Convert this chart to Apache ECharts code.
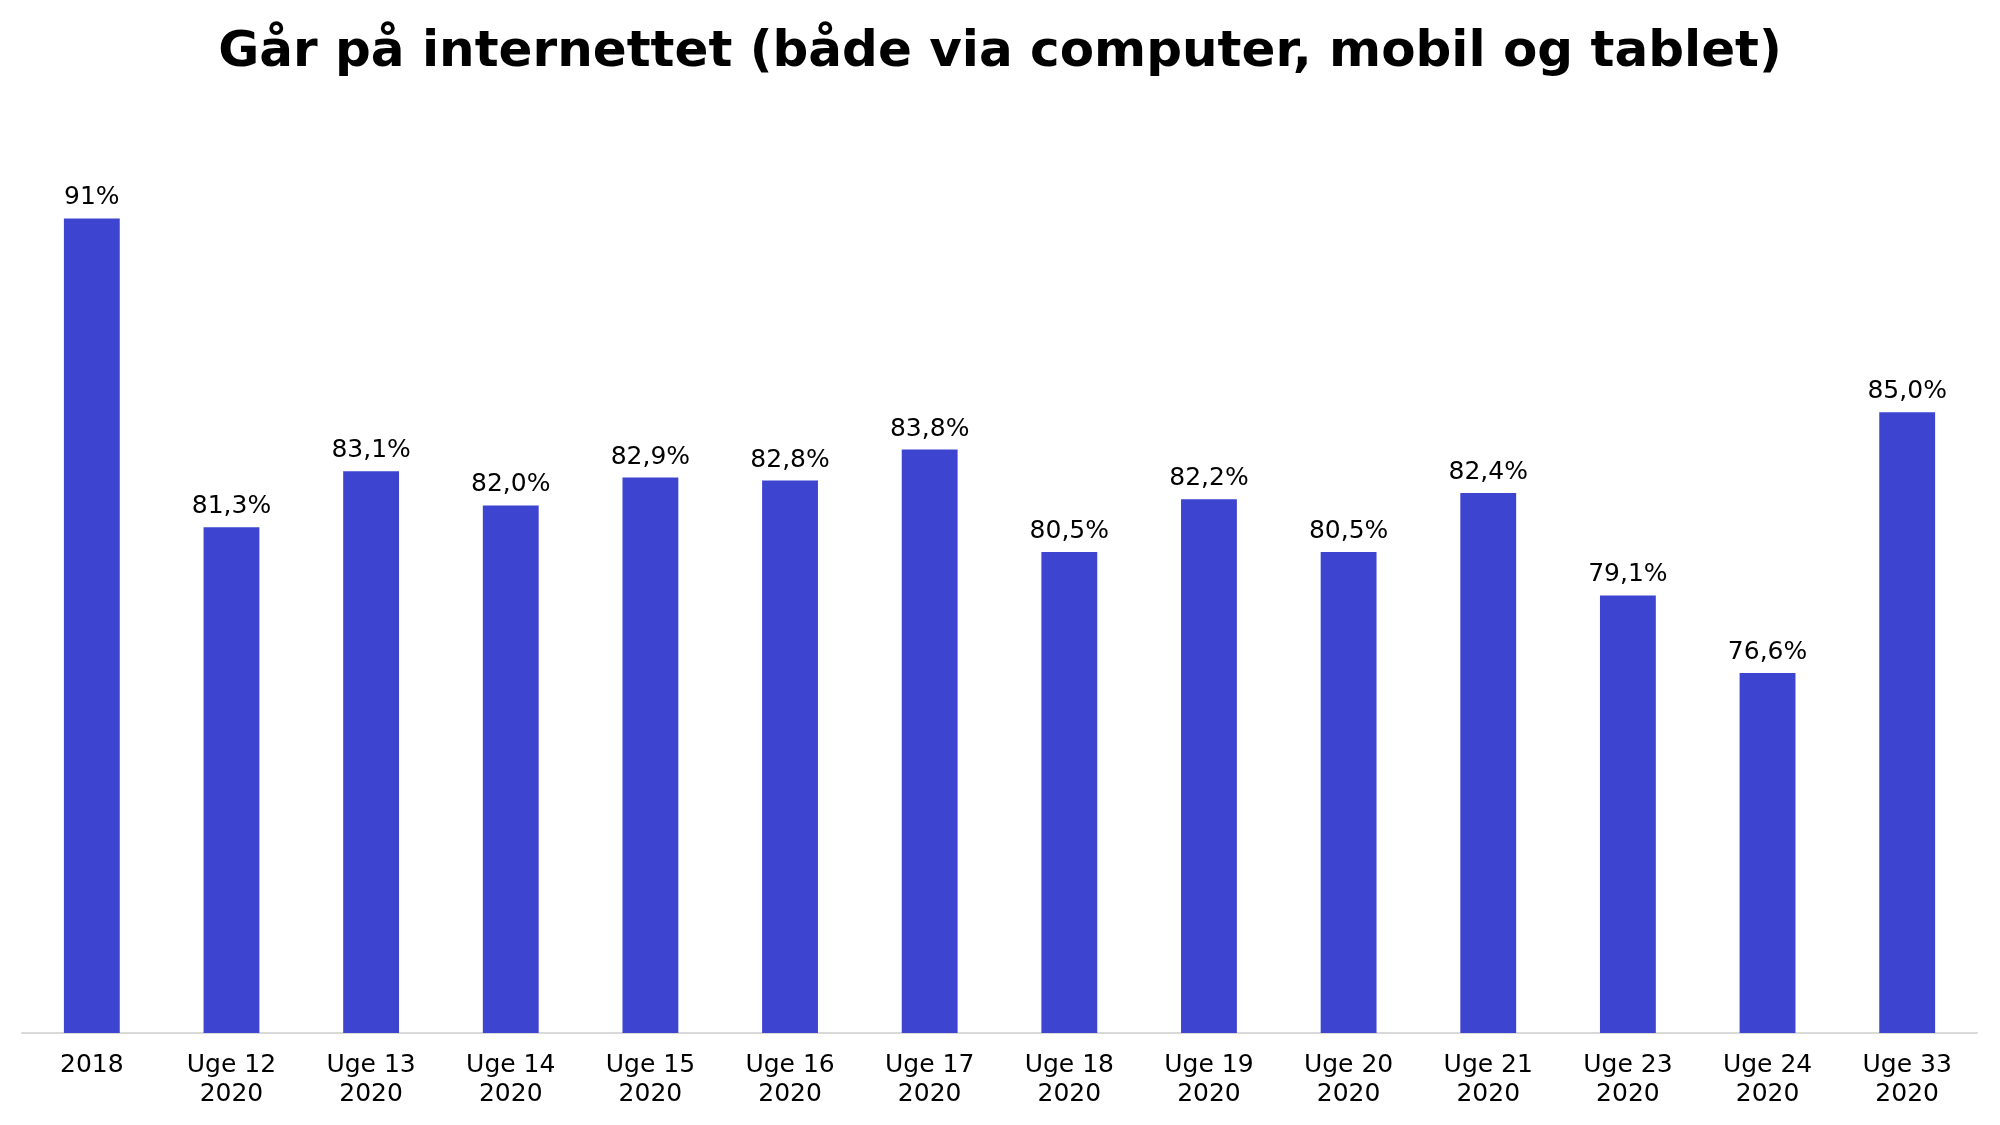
<!DOCTYPE html>
<html>
<head>
<meta charset="utf-8">
<script src="https://cdn.jsdelivr.net/npm/echarts@6/dist/echarts.min.js"></script>
<style>html,body{margin:0;padding:0;background:#fff;}#c{width:2000px;height:1125px;}</style>
</head>
<body>
<div id="c"></div>
<script>
const categories = ["2018","Uge 12\n2020","Uge 13\n2020","Uge 14\n2020","Uge 15\n2020","Uge 16\n2020","Uge 17\n2020","Uge 18\n2020","Uge 19\n2020","Uge 20\n2020","Uge 21\n2020","Uge 23\n2020","Uge 24\n2020","Uge 33\n2020"];
const values = [91.25, 81.3, 83.1, 82.0, 82.9, 82.8, 83.8, 80.5, 82.2, 80.5, 82.4, 79.1, 76.6, 85.0];
const valueLabels = ["91%","81,3%","83,1%","82,0%","82,9%","82,8%","83,8%","80,5%","82,2%","80,5%","82,4%","79,1%","76,6%","85,0%"];

const chart = echarts.init(document.getElementById('c'));
chart.setOption({
  animation: false,
  backgroundColor: '#ffffff',
  title: {
    text: 'Går på internettet (både via computer, mobil og tablet)',
    left: 'center',
    top: 23,
    textStyle: { fontFamily: 'DejaVu Sans', fontWeight: 'bold', fontSize: 50, color: '#000' }
  },
  grid: { left: 22, right: 23, top: 102, bottom: 92, containLabel: false },
  xAxis: {
    type: 'category',
    data: categories,
    axisLine: { show: true, lineStyle: { color: '#d9d9d9', width: 2 } },
    axisTick: { show: false },
    axisLabel: { fontFamily: 'DejaVu Sans', fontSize: 25, color: '#000', lineHeight: 29, margin: 18, interval: 0 }
  },
  yAxis: {
    type: 'value', min: 65, max: 95,
    show: false,
    splitLine: { show: false }
  },
  series: [{
    type: 'bar',
    data: values,
    barWidth: '40%',
    itemStyle: { color: '#3d45d0' },
    label: {
      show: true, position: 'top', distance: 8,
      fontFamily: 'DejaVu Sans', fontSize: 25, color: '#000',
      formatter: p => valueLabels[p.dataIndex]
    }
  }]
});
</script>
</body>
</html>
